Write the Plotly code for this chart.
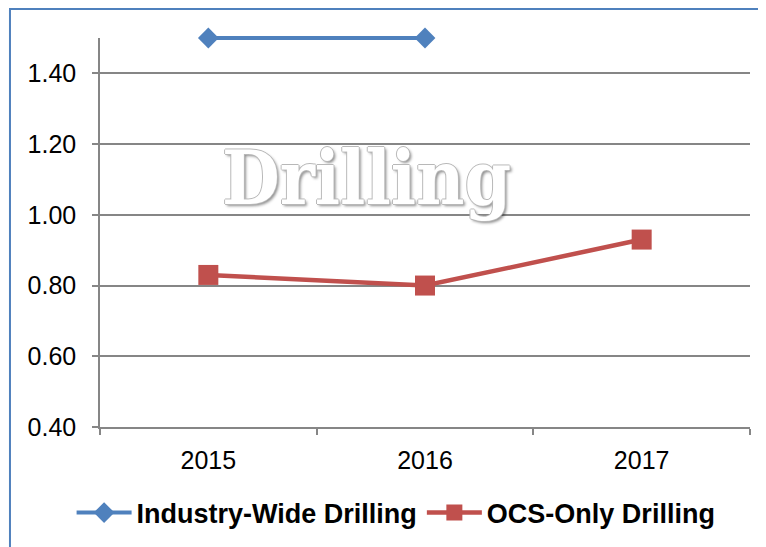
import plotly.graph_objects as go

years = ["2015", "2016", "2017"]
industry_wide = [1.50, 1.50, None]
ocs_only = [0.83, 0.80, 0.93]

BLUE = "#4F81BD"
RED = "#C0504D"
GRID = "#868686"

Y_MIN, Y_MAX = 0.4, 1.5
TOP_MARGIN = 20
PLOT_H_MAIN = 389   # px height of the visible value axis
PLOT_H_FULL = 399   # px height of the overlay subplot (room for the top series)

fig = go.Figure()
fig.add_trace(go.Scatter(
    x=years, y=industry_wide, name="Industry-Wide Drilling",
    xaxis="x2", yaxis="y2",
    mode="lines+markers", cliponaxis=False,
    line=dict(color=BLUE, width=4),
    marker=dict(symbol="diamond", size=16, color=BLUE),
))
fig.add_trace(go.Scatter(
    x=years, y=ocs_only, name="OCS-Only Drilling",
    mode="lines+markers", cliponaxis=False,
    line=dict(color=RED, width=4.5),
    marker=dict(symbol="square", size=20, color=RED),
))

# watermark
fig.add_annotation(
    text="Drilling", x=0.41, y=1.105, xref="paper", yref="y",
    showarrow=False,
    font=dict(family="DejaVu Serif Condensed, DejaVu Serif", size=74, color="white",
              weight="bold",
              shadow="1px 0px 0px #b8b8b8, -1px 0px 0px #b8b8b8, 0px 1px 0px #b8b8b8, "
                     "0px -1px 0px #b8b8b8, 2px 2px 3px rgba(0,0,0,0.45)"),
)

# chart-area border (top and left edges visible; top edge 1px below figure top)
fig.add_shape(type="rect", xref="paper", yref="paper",
              x0=-0.1385, x1=1.1, y0=-0.35,
              y1=(PLOT_H_FULL + TOP_MARGIN - 1) / PLOT_H_FULL,
              line=dict(color=BLUE, width=2), layer="below")

fig.update_layout(
    width=758, height=539,
    margin=dict(l=92, r=16, t=TOP_MARGIN, b=120),
    paper_bgcolor="white", plot_bgcolor="rgba(0,0,0,0)",
    font=dict(family="Liberation Sans", size=25, color="#000"),
    showlegend=True,
    legend=dict(
        orientation="h", xref="container", yref="container",
        x=0.512, xanchor="center", y=0.063, yanchor="middle",
        font=dict(family="Liberation Sans", size=27, color="#000", weight="bold"),
        itemwidth=55, bgcolor="rgba(0,0,0,0)",
    ),
    xaxis=dict(
        type="category", categoryorder="array", categoryarray=years,
        range=[-0.5, 2.5], tickson="boundaries",
        ticks="outside", ticklen=6, tickcolor=GRID, tickwidth=1.5,
        showline=True, linecolor=GRID, linewidth=1.5,
        showgrid=False, ticklabelstandoff=10,
    ),
    yaxis=dict(
        domain=[0, PLOT_H_MAIN / PLOT_H_FULL],
        range=[Y_MIN, Y_MAX], tick0=0.4, dtick=0.2, tickformat=".2f",
        ticks="outside", ticklen=6, tickcolor=GRID, tickwidth=1.5,
        showline=True, linecolor=GRID, linewidth=1.5,
        showgrid=True, gridcolor=GRID, gridwidth=1.5,
        zeroline=False, ticklabelstandoff=11,
    ),
    xaxis2=dict(
        type="category", categoryorder="array", categoryarray=years,
        range=[-0.5, 2.5], visible=False, anchor="y2",
    ),
    yaxis2=dict(
        domain=[0, 1],
        range=[Y_MIN, Y_MIN + (Y_MAX - Y_MIN) * PLOT_H_FULL / PLOT_H_MAIN],
        visible=False, anchor="x2",
    ),
)

fig.write_html("out.html")
